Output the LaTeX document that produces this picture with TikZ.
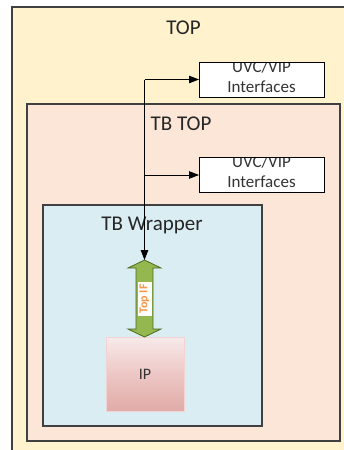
\documentclass[tikz,border=0pt]{standalone}
\usepackage{fontspec}
\setmainfont{Carlito}
\usetikzlibrary{arrows.meta}
\definecolor{topfill}{HTML}{FFF2CC}
\definecolor{tbtopfill}{HTML}{FBE6D7}
\definecolor{wrapfill}{HTML}{DAEDF3}
\definecolor{edge}{HTML}{404040}
\definecolor{ifgreen}{HTML}{94B750}
\definecolor{ifgreenedge}{HTML}{4F6A22}
\definecolor{iforange}{HTML}{F79646}
\definecolor{ipedge}{HTML}{F2D3D3}
\definecolor{iptop}{HTML}{F7EAEA}
\definecolor{ipmid}{HTML}{EDC7C5}
\definecolor{ipbot}{HTML}{E0ABA7}
\tikzset{
  region/.style={draw=edge, line width=1.1pt},
  bigtitle/.style={font=\fontsize{21}{25}\selectfont, text=black!85},
  uvcbox/.style={draw=black, fill=white, line width=0.9pt, minimum width=125pt,
    minimum height=35pt, inner sep=0pt, outer sep=0pt},
  uvctext/.style={font=\fontsize{17}{20}\selectfont, align=center, text=black!80},
  sig/.style={draw=black, line width=0.8pt, -{Triangle[length=10pt,width=7.5pt]}},
}
\begin{document}
\begin{tikzpicture}[x=1pt, y=-1pt]
  \useasboundingbox (0,0) rectangle (343,450);
  % outer regions
  \path[region, fill=topfill] (12,7) rectangle (360,470);
  \node[bigtitle] (toplbl) at (183.5,28) {TOP};
  \path[region, fill=tbtopfill] (27,104) rectangle (340,441);
  \node[bigtitle] (tbtoplbl) at (181,124) {TB TOP};
  \path[region, fill=wrapfill] (43,205) rectangle (262,426);
  \node[bigtitle] (wraplbl) at (152,225) {TB Wrapper};

  % interface boxes (text overflows upward, clipped by the frame)
  \node[uvcbox] (uvc1) at (261.5,79.5) {};
  \node[uvcbox] (uvc2) at (261.5,175) {};
  \begin{scope}
    \clip (uvc1.north west) rectangle (uvc1.south east);
    \node[uvctext] at (261.5,76.5) {UVC/VIP\\Interfaces};
  \end{scope}
  \begin{scope}
    \clip (uvc2.north west) rectangle (uvc2.south east);
    \node[uvctext] at (261.5,172) {UVC/VIP\\Interfaces};
  \end{scope}
  \draw[black, line width=0.9pt] (uvc1.north west) rectangle (uvc1.south east);
  \draw[black, line width=0.9pt] (uvc2.north west) rectangle (uvc2.south east);

  % IP block
  \node[draw=ipedge, line width=0.8pt, minimum width=78pt, minimum height=74pt,
        top color=iptop, bottom color=ipbot, middle color=ipmid,
        font=\fontsize{16}{19}\selectfont, text=black!80] (ip) at (145,374) {IP};

  % Top IF double arrow
  \coordinate (ifn) at (144.5,260);
  \coordinate (ifs) at (144.5,337);
  \path[draw=ifgreenedge, line width=0.8pt, fill=ifgreen]
    (ifn) -- (161,268) -- (153,268) -- (153,329) -- (161,329) -- (ifs)
    -- (128,329) -- (136,329) -- (136,268) -- (128,268) -- cycle;
  \fill[white] (137.5,282) rectangle (151.5,316);
  \node[rotate=90, text=iforange, font=\bfseries\fontsize{12}{14}\selectfont]
    (iflbl) at (144.5,299) {Top IF};

  % signal tree
  \coordinate (tapA) at (144.5,79.5);
  \coordinate (tapB) at (144.5,175);
  \draw[sig] (tapA) -- (uvc1.west);
  \draw[sig] (tapB) -- (uvc2.west);
  \draw[sig] (tapA) -- (ifn);
\end{tikzpicture}
\end{document}
